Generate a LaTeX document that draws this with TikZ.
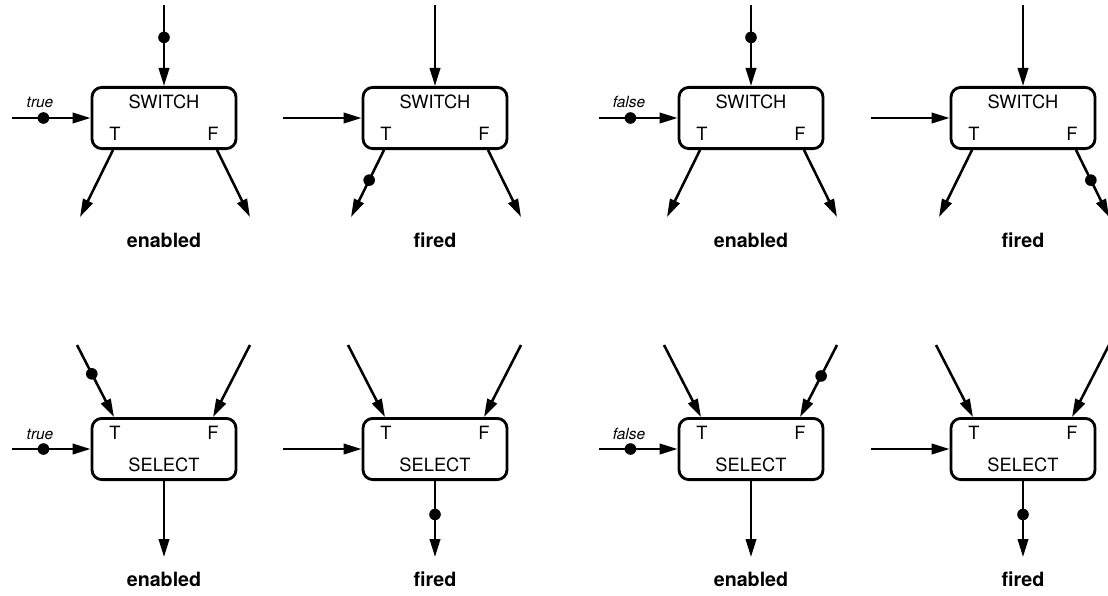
\documentclass[tikz,border=0pt]{standalone}
\usepackage{fontspec}
\setmainfont{TeX Gyre Heros}
\usetikzlibrary{arrows.meta}

\tikzset{
  actor/.style={draw, line width=2pt, rounded corners=7pt, minimum width=3.6cm, minimum height=1.53cm, inner sep=0pt},
  flow/.style={-{Triangle[length=4.5mm, width=2.6mm]}, line width=1.8pt},
  token/.style={circle, fill, inner sep=0pt, minimum size=2.9mm},
  port/.style={font=\fontsize{13}{15}\selectfont},
  state/.style={font=\fontsize{14}{16}\selectfont\bfseries},
  cond/.style={font=\fontsize{11}{13}\selectfont\itshape}
}

\begin{document}
\begin{tikzpicture}[x=0.025cm, y=-0.025cm]
    \useasboundingbox (0,0) rectangle (1108,595);

    % SWITCH, true, enabled
    \begin{scope}[shift={(164,118)}]
      \node[actor] (sw1) at (0,0) {};
      \node[port] at (0,-16) {SWITCH};
      \node[port] at (-49,16) {T};
      \node[port] at (49,16) {F};
      \coordinate (sw1c) at (0,-113);
      \coordinate (sw1d) at (-152,0);
      \coordinate (sw1t) at (-51,32);
      \coordinate (sw1f) at (53,32);
      \coordinate (sw1tx) at (-84,99);
      \coordinate (sw1fx) at (86,99);
      \draw[flow] (sw1c) -- node[pos=0.4, token] {} (sw1.north);
      \draw[flow] (sw1d) -- node[pos=0.4, token] {} (sw1.west);
      \node[cond] at (-124,-16) {true};
      \draw[flow] (sw1t) -- (sw1tx);
      \draw[flow] (sw1f) -- (sw1fx);
      \node[state] at (0,122) {enabled};
    \end{scope}

    % SWITCH, true, fired
    \begin{scope}[shift={(435,118)}]
      \node[actor] (sw2) at (0,0) {};
      \node[port] at (0,-16) {SWITCH};
      \node[port] at (-49,16) {T};
      \node[port] at (49,16) {F};
      \coordinate (sw2c) at (0,-113);
      \coordinate (sw2d) at (-152,0);
      \coordinate (sw2t) at (-51,32);
      \coordinate (sw2f) at (53,32);
      \coordinate (sw2tx) at (-84,99);
      \coordinate (sw2fx) at (86,99);
      \draw[flow] (sw2c) -- (sw2.north);
      \draw[flow] (sw2d) -- (sw2.west);
      \draw[flow] (sw2t) -- node[pos=0.45, token] {} (sw2tx);
      \draw[flow] (sw2f) -- (sw2fx);
      \node[state] at (0,122) {fired};
    \end{scope}

    % SWITCH, false, enabled
    \begin{scope}[shift={(751,118)}]
      \node[actor] (sw3) at (0,0) {};
      \node[port] at (0,-16) {SWITCH};
      \node[port] at (-49,16) {T};
      \node[port] at (49,16) {F};
      \coordinate (sw3c) at (0,-113);
      \coordinate (sw3d) at (-152,0);
      \coordinate (sw3t) at (-51,32);
      \coordinate (sw3f) at (53,32);
      \coordinate (sw3tx) at (-84,99);
      \coordinate (sw3fx) at (86,99);
      \draw[flow] (sw3c) -- node[pos=0.4, token] {} (sw3.north);
      \draw[flow] (sw3d) -- node[pos=0.4, token] {} (sw3.west);
      \node[cond] at (-122,-16) {false};
      \draw[flow] (sw3t) -- (sw3tx);
      \draw[flow] (sw3f) -- (sw3fx);
      \node[state] at (0,122) {enabled};
    \end{scope}

    % SWITCH, false, fired
    \begin{scope}[shift={(1023,118)}]
      \node[actor] (sw4) at (0,0) {};
      \node[port] at (0,-16) {SWITCH};
      \node[port] at (-49,16) {T};
      \node[port] at (49,16) {F};
      \coordinate (sw4c) at (0,-113);
      \coordinate (sw4d) at (-152,0);
      \coordinate (sw4t) at (-51,32);
      \coordinate (sw4f) at (53,32);
      \coordinate (sw4tx) at (-84,99);
      \coordinate (sw4fx) at (86,99);
      \draw[flow] (sw4c) -- (sw4.north);
      \draw[flow] (sw4d) -- (sw4.west);
      \draw[flow] (sw4t) -- (sw4tx);
      \draw[flow] (sw4f) -- node[pos=0.45, token] {} (sw4fx);
      \node[state] at (0,122) {fired};
    \end{scope}

    % SELECT, true, enabled
    \begin{scope}[shift={(164,449)}]
      \node[actor] (se1) at (0,0) {};
      \node[port] at (0,16) {SELECT};
      \node[port] at (-49,-16) {T};
      \node[port] at (49,-16) {F};
      \coordinate (se1tx) at (-87,-104);
      \coordinate (se1fx) at (86,-104);
      \coordinate (se1t) at (-50,-32);
      \coordinate (se1f) at (49,-32);
      \coordinate (se1d) at (-152,0);
      \coordinate (se1o) at (0,108);
      \draw[flow] (se1tx) -- node[pos=0.4, token] {} (se1t);
      \draw[flow] (se1fx) -- (se1f);
      \draw[flow] (se1d) -- node[pos=0.4, token] {} (se1.west);
      \node[cond] at (-124,-15) {true};
      \draw[flow] (se1.south) -- (se1o);
      \node[state] at (0,130) {enabled};
    \end{scope}

    % SELECT, true, fired
    \begin{scope}[shift={(435,449)}]
      \node[actor] (se2) at (0,0) {};
      \node[port] at (0,16) {SELECT};
      \node[port] at (-49,-16) {T};
      \node[port] at (49,-16) {F};
      \coordinate (se2tx) at (-87,-104);
      \coordinate (se2fx) at (86,-104);
      \coordinate (se2t) at (-50,-32);
      \coordinate (se2f) at (49,-32);
      \coordinate (se2d) at (-152,0);
      \coordinate (se2o) at (0,108);
      \draw[flow] (se2tx) -- (se2t);
      \draw[flow] (se2fx) -- (se2f);
      \draw[flow] (se2d) -- (se2.west);
      \draw[flow] (se2.south) -- node[pos=0.44, token] {} (se2o);
      \node[state] at (0,130) {fired};
    \end{scope}

    % SELECT, false, enabled
    \begin{scope}[shift={(751,449)}]
      \node[actor] (se3) at (0,0) {};
      \node[port] at (0,16) {SELECT};
      \node[port] at (-49,-16) {T};
      \node[port] at (49,-16) {F};
      \coordinate (se3tx) at (-87,-104);
      \coordinate (se3fx) at (86,-104);
      \coordinate (se3t) at (-50,-32);
      \coordinate (se3f) at (49,-32);
      \coordinate (se3d) at (-152,0);
      \coordinate (se3o) at (0,108);
      \draw[flow] (se3tx) -- (se3t);
      \draw[flow] (se3fx) -- node[pos=0.43, token] {} (se3f);
      \draw[flow] (se3d) -- node[pos=0.4, token] {} (se3.west);
      \node[cond] at (-122,-15) {false};
      \draw[flow] (se3.south) -- (se3o);
      \node[state] at (0,130) {enabled};
    \end{scope}

    % SELECT, false, fired
    \begin{scope}[shift={(1023,449)}]
      \node[actor] (se4) at (0,0) {};
      \node[port] at (0,16) {SELECT};
      \node[port] at (-49,-16) {T};
      \node[port] at (49,-16) {F};
      \coordinate (se4tx) at (-87,-104);
      \coordinate (se4fx) at (86,-104);
      \coordinate (se4t) at (-50,-32);
      \coordinate (se4f) at (49,-32);
      \coordinate (se4d) at (-152,0);
      \coordinate (se4o) at (0,108);
      \draw[flow] (se4tx) -- (se4t);
      \draw[flow] (se4fx) -- (se4f);
      \draw[flow] (se4d) -- (se4.west);
      \draw[flow] (se4.south) -- node[pos=0.44, token] {} (se4o);
      \node[state] at (0,130) {fired};
    \end{scope}
  \end{tikzpicture}
\end{document}
